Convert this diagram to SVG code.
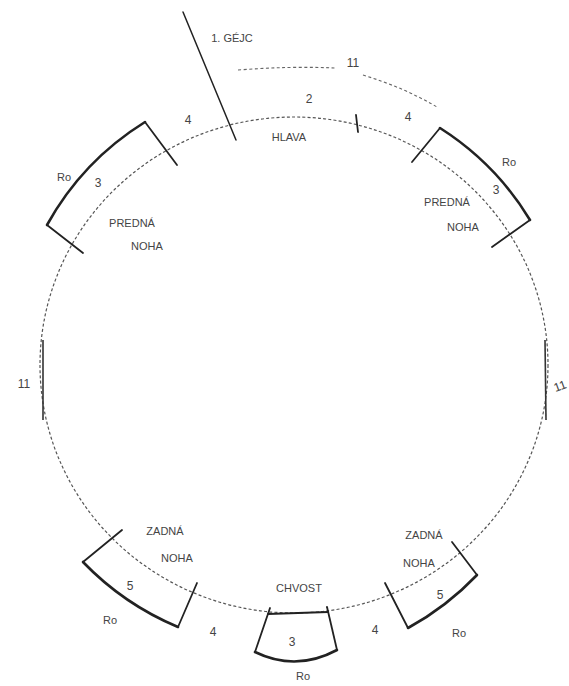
<svg xmlns="http://www.w3.org/2000/svg" width="569" height="686" viewBox="0 0 569 686">
<style>
.body{fill:none;stroke:#555;stroke-width:1.2;stroke-dasharray:3 2.2}
.solid{fill:none;stroke:#333;stroke-width:1.6}
.box{fill:none;stroke:#222;stroke-width:1.8;stroke-linecap:round;stroke-linejoin:round}
.thick{fill:none;stroke:#222;stroke-width:2.6;stroke-linecap:round}
.dash{fill:none;stroke:#666;stroke-width:1.1;stroke-dasharray:3 2.5}
.t{font-family:"Liberation Sans",Arial,sans-serif;font-size:11px;fill:#444;text-anchor:middle}
.n{font-family:"Liberation Sans",Arial,sans-serif;font-size:12px;fill:#444;text-anchor:middle}
</style>
<rect width="569" height="686" fill="#fff"/>
<g id="body">
<ellipse class="body" cx="294" cy="365" rx="254" ry="248"/>
<path class="solid" d="M43,340 L43,420"/>
<path class="solid" d="M545,340 L546,420"/>
<text class="n" x="24" y="388">11</text>
<text class="n" x="560" y="390" transform="rotate(-20 560 386)">11</text>
</g>
<g id="head">
<path class="box" d="M356,115 L358,132"/>
<text class="n" x="309" y="103">2</text>
<text class="t" x="289" y="141">HLAVA</text>
<text class="n" x="188" y="124">4</text>
<text class="n" x="408" y="121">4</text>
</g>
<g id="front-leg-left">
<path class="box" d="M177,165 L145,122"/>
<path class="thick" d="M145,122 A284,280 0 0 0 47,225"/>
<path class="box" d="M47,225 L83,253"/>
<text class="t" x="64" y="181">Ro</text>
<text class="n" x="98" y="187">3</text>
<text class="t" x="132" y="227">PREDNÁ</text>
<text class="t" x="147" y="250">NOHA</text>
</g>
<g id="front-leg-right">
<path class="box" d="M412,162 L440,128"/>
<path class="thick" d="M440,128 A284,280 0 0 1 530,220"/>
<path class="box" d="M530,220 L492,247"/>
<text class="t" x="509" y="166">Ro</text>
<text class="n" x="496" y="194">3</text>
<text class="t" x="447" y="206">PREDNÁ</text>
<text class="t" x="463" y="231">NOHA</text>
</g>
<g id="back-leg-left">
<path class="box" d="M122,530 L83,562"/>
<path class="thick" d="M83,562 A284,280 0 0 0 178,627"/>
<path class="box" d="M178,627 L197,583"/>
<text class="t" x="165" y="535">ZADNÁ</text>
<text class="t" x="177" y="562">NOHA</text>
<text class="n" x="130" y="590">5</text>
<text class="t" x="110" y="624">Ro</text>
<text class="n" x="213" y="636">4</text>
</g>
<g id="tail">
<path class="box" d="M268,614 L328,612"/>
<path class="box" d="M270,608 L255,652"/>
<path class="box" d="M327,607 L337,650"/>
<path class="thick" d="M255,652 Q296,672 337,650"/>
<text class="t" x="299" y="592">CHVOST</text>
<text class="n" x="292" y="646">3</text>
<text class="t" x="303" y="680">Ro</text>
<text class="n" x="375" y="634">4</text>
</g>
<g id="back-leg-right">
<path class="box" d="M385,583 L408,628"/>
<path class="thick" d="M408,628 A284,280 0 0 0 477,575"/>
<path class="box" d="M477,575 L452,542"/>
<text class="t" x="424" y="539">ZADNÁ</text>
<text class="t" x="419" y="567">NOHA</text>
<text class="n" x="440" y="599">5</text>
<text class="t" x="459" y="637">Ro</text>
</g>
<g id="connectors">
<path class="box" d="M183,12 L236,140" style="stroke-width:1.5"/>
<text class="t" x="232" y="42">1. GÉJC</text>
<path class="dash" d="M238,70 Q290,66 335,68"/>
<path class="dash" d="M363,75 Q405,88 437,107"/>
<text class="n" x="353" y="67">11</text>
</g>
</svg>
